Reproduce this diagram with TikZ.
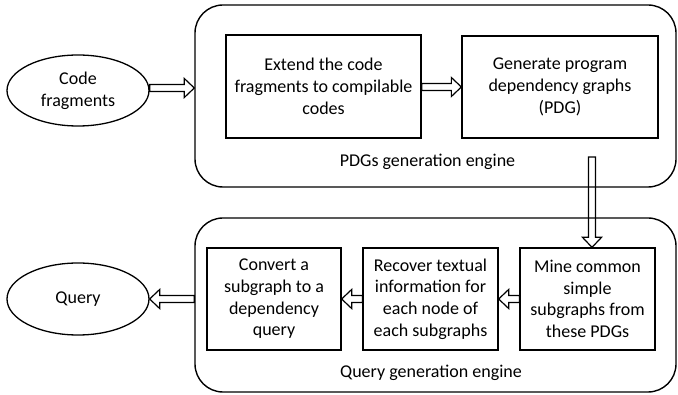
\documentclass[tikz,border=0pt]{standalone}
\usepackage{fontspec}
\setmainfont{Carlito}
\usepackage{tikz}
\usetikzlibrary{shapes.geometric,arrows.meta,calc,positioning}
\tikzset{
  engine/.style={draw,line width=1.4pt,rounded corners=28pt},
  stepbox/.style={draw,line width=1.3pt,align=center,inner sep=2pt,font=\fontsize{18}{21.7}\selectfont},
  term/.style={draw,ellipse,line width=1.3pt,minimum width=142pt,minimum height=71pt,align=center,inner sep=0pt,font=\fontsize{18}{21.7}\selectfont},
  lbl/.style={font=\fontsize{18}{21.7}\selectfont,inner sep=0pt},
  hollow/.style={draw,line width=1.2pt,line join=miter,to path={
    let \p1=($(\tikztotarget)-(\tikztostart)$), \n1={atan2(\y1,\x1)}, \n2={veclen(\x1,\y1)-10} in
    ($(\tikztostart)+(\n1+90:3.5pt)$) -- ($(\tikztostart)+(\n1:\n2)+(\n1+90:3.5pt)$)
    -- ($(\tikztostart)+(\n1:\n2)+(\n1+90:9.5pt)$) -- (\tikztotarget)
    -- ($(\tikztostart)+(\n1:\n2)+(\n1-90:9.5pt)$) -- ($(\tikztostart)+(\n1:\n2)+(\n1-90:3.5pt)$)
    -- ($(\tikztostart)+(\n1-90:3.5pt)$) -- cycle}}
}

\begin{document}
\begin{tikzpicture}[x=1pt,y=-1pt]
\useasboundingbox (0,0) rectangle (678,395);
\node[engine,minimum width=481pt,minimum height=182pt] (pdgengine) at (435.5,96) {};
\node[engine,minimum width=481pt,minimum height=174pt] (qengine) at (435.5,305) {};
\node[lbl] (pdglbl) at (427.5,162) {PDGs generation engine};
\node[lbl] (qlbl) at (431,373) {Query generation engine};
\node[term] (code) at (78,90.5) {Code\\fragments};
\node[term,minimum height=72pt] (query) at (78,299) {Query};
\node[stepbox,minimum width=195pt,minimum height=103pt] (extend) at (323.5,86.5) {Extend the code\\fragments to compilable\\codes};
\node[stepbox,minimum width=196pt,minimum height=102pt] (generate) at (560,87) {Generate program\\dependency graphs\\(PDG)};
\node[stepbox,minimum width=134pt,minimum height=102pt] (convert) at (274,299) {Convert a\\subgraph to a\\dependency\\query};
\node[stepbox,minimum width=135pt,minimum height=102pt] (recover) at (430.5,299) {Recover textual\\information for\\each node of\\each subgraphs};
\node[stepbox,minimum width=135pt,minimum height=102pt] (mine) at (587.5,299) {Mine common\\simple\\subgraphs from\\these PDGs};
\coordinate (pdgtail) at (592,157);
\draw[hollow] (code.east |- 0,88) to (pdgengine.west |- 0,88);
\draw[hollow] (extend.east |- 0,87) to (generate.west |- 0,87);
\draw[hollow] (pdgtail) to (pdgtail |- mine.north);
\draw[hollow] (mine.west) to (recover.east);
\draw[hollow] (recover.west) to (convert.east);
\draw[hollow] (qengine.west |- query) to (query.east);
\end{tikzpicture}
\end{document}
